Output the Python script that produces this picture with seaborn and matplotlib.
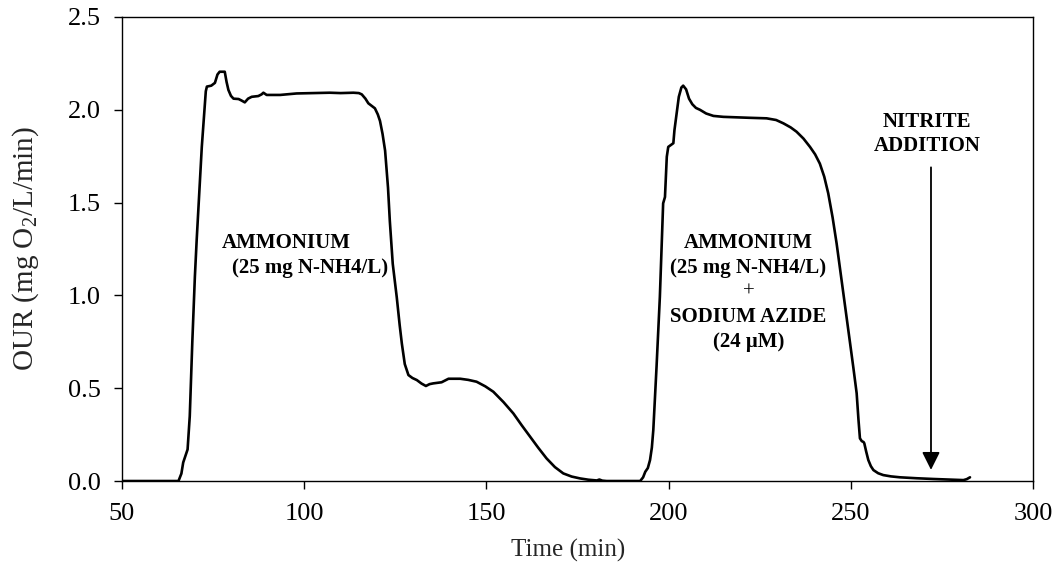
import matplotlib
matplotlib.use("Agg")
import matplotlib.pyplot as plt
import seaborn as sns
import pandas as pd

# Oxygen uptake rate trace (time in min, OUR in mg O2/L/min)
time_min = [
    50, 65.5, 66.3, 66.8, 67.5, 68.0, 68.6, 69.3, 70.0, 70.5, 71.2, 71.9, 72.5,
    73.0, 73.3, 74.5, 75.5, 76.2, 76.8, 78.2, 78.7, 79.2, 79.9, 80.6, 82.0,
    82.8, 83.7, 84.6, 85.6, 87.4, 88.3, 88.8, 89.7, 93.4, 97.9, 103, 107, 110,
    113.5, 115.0, 115.8, 116.8, 117.6, 118.6, 119.4, 120.2, 120.8, 121.5,
    122.2, 123.0, 123.5, 124.3, 125.4, 126.2, 126.8, 127.6, 128.6, 129.7,
    130.9, 132.2, 133.4, 134.4, 135.4, 137.7, 139.6, 142.8, 145.0, 147.3,
    149.7, 151.9, 154.7, 157.4, 159.7, 162.0, 164.2, 166.5, 168.8, 171.1,
    173.4, 175.7, 178.0, 180.3, 181.0, 181.8, 183, 192.2, 193.0, 193.6, 194.3,
    194.9, 195.4, 195.8, 196.7, 197.6, 198.5, 199.0, 199.5, 199.9, 201.3,
    201.6, 202.2, 202.8, 203.5, 204.0, 204.8, 205.6, 206.5, 207.5, 208.6,
    210.3, 212.3, 215, 217.7, 222, 226.9, 229.5, 231.5, 233.5, 235.1, 237.0,
    238.8, 240.2, 241.5, 242.7, 243.8, 245.0, 246.1, 247.0, 248.0, 248.9,
    249.8, 250.7, 251.6, 252.1, 252.5, 253.0, 253.5, 253.7, 254.2, 254.8,
    255.5, 256.2, 257.5, 258.9, 261, 263.5, 268, 272.6, 277, 280.9, 281.8,
    282.7,
]
our = [
    0, 0, 0.04, 0.10, 0.14, 0.17, 0.35, 0.75, 1.10, 1.30, 1.55, 1.80, 1.96,
    2.10, 2.125, 2.13, 2.145, 2.19, 2.205, 2.205, 2.15, 2.107, 2.075, 2.06,
    2.058, 2.05, 2.04, 2.06, 2.07, 2.074, 2.083, 2.092, 2.08, 2.08, 2.088,
    2.09, 2.092, 2.09, 2.092, 2.09, 2.083, 2.06, 2.035, 2.02, 2.008, 1.975,
    1.94, 1.87, 1.78, 1.58, 1.40, 1.17, 0.99, 0.84, 0.74, 0.63, 0.571, 0.555,
    0.544, 0.525, 0.512, 0.522, 0.526, 0.532, 0.551, 0.551, 0.545, 0.535,
    0.51, 0.481, 0.425, 0.364, 0.30, 0.239, 0.18, 0.122, 0.075, 0.041, 0.024,
    0.014, 0.007, 0.003, 0.008, 0.002, 0, 0, 0.02, 0.05, 0.07, 0.113, 0.18,
    0.275, 0.62, 0.993, 1.496, 1.53, 1.747, 1.80, 1.82, 1.89, 1.98, 2.07,
    2.12, 2.13, 2.11, 2.06, 2.03, 2.01, 2.0, 1.98, 1.967, 1.962, 1.96, 1.957,
    1.954, 1.945, 1.927, 1.905, 1.882, 1.845, 1.80, 1.76, 1.71, 1.64, 1.55,
    1.42, 1.28, 1.15, 1.01, 0.875, 0.742, 0.61, 0.473, 0.33, 0.23, 0.215,
    0.21, 0.203, 0.16, 0.113, 0.08, 0.059, 0.042, 0.032, 0.025, 0.02, 0.015,
    0.011, 0.008, 0.005, 0.01, 0.02,
]

x_ticks = [50, 100, 150, 200, 250, 300]
y_ticks = [0.0, 0.5, 1.0, 1.5, 2.0, 2.5]

nitrite_time = 272.0

sns.set_theme(style="ticks")
plt.rcParams["font.family"] = ["Liberation Serif", "DejaVu Serif"]
plt.rcParams["mathtext.fontset"] = "custom"
plt.rcParams["mathtext.rm"] = "Liberation Serif"
plt.rcParams["mathtext.it"] = "Liberation Serif:italic"

df = pd.DataFrame({"time": time_min, "our": our})

fig = plt.figure(figsize=(10.58, 5.70), dpi=100)
ax = fig.add_axes([0.1153, 0.1561, 0.9764 - 0.1153, 0.9702 - 0.1561])

sns.lineplot(data=df, x="time", y="our", ax=ax, sort=False, estimator=None,
             color="black", linewidth=1.9)

ax.set_xlim(50, 300)
ax.set_ylim(0, 2.5)
ax.set_xticks(x_ticks)
ax.set_yticks(y_ticks)
ax.set_yticklabels([f"{v:.1f}" for v in y_ticks])
ax.tick_params(axis="both", direction="out", length=6, width=1,
               labelsize=19, colors="black")
ax.tick_params(axis="x", pad=10)
ax.tick_params(axis="y", pad=9)
for side in ["left", "right", "top", "bottom"]:
    ax.spines[side].set_visible(True)
    ax.spines[side].set_color("black")
    ax.spines[side].set_linewidth(1)

ax.set_xlabel("Time (min)", fontsize=18)
ax.xaxis.set_label_coords(0.49, -0.125)
ax.set_ylabel("OUR (mg O$_2$/L/min)", fontsize=21)
ax.yaxis.set_label_coords(-0.089, 0.5)

bold = dict(fontsize=15, fontweight="bold", color="black")
ax.text(77.3, 1.28, "AMMONIUM", ha="left", va="center", **bold)
ax.text(80.1, 1.146, "(25 mg N-NH4/L)", ha="left", va="center", **bold)

block = ["AMMONIUM", "(25 mg N-NH4/L)", "+", "SODIUM AZIDE", "(24 \u03bcM)"]
block_y = [1.28, 1.146, 1.02, 0.885, 0.75]
for label, yy in zip(block, block_y):
    weight = "normal" if label == "+" else "bold"
    ax.text(221.9, yy, label, ha="center", va="center", fontsize=15,
            fontweight=weight, color="black")

ax.text(270.9, 1.936, "NITRITE", ha="center", va="center", **bold)
ax.text(270.9, 1.805, "ADDITION", ha="center", va="center", **bold)
ax.annotate("", xy=(nitrite_time, 0.06), xytext=(nitrite_time, 1.69),
            arrowprops=dict(arrowstyle="-|>,head_length=0.4,head_width=0.2",
                            mutation_scale=27, color="black", lw=1.3,
                            shrinkA=0, shrinkB=0))

fig.savefig("out.png", dpi=100)
